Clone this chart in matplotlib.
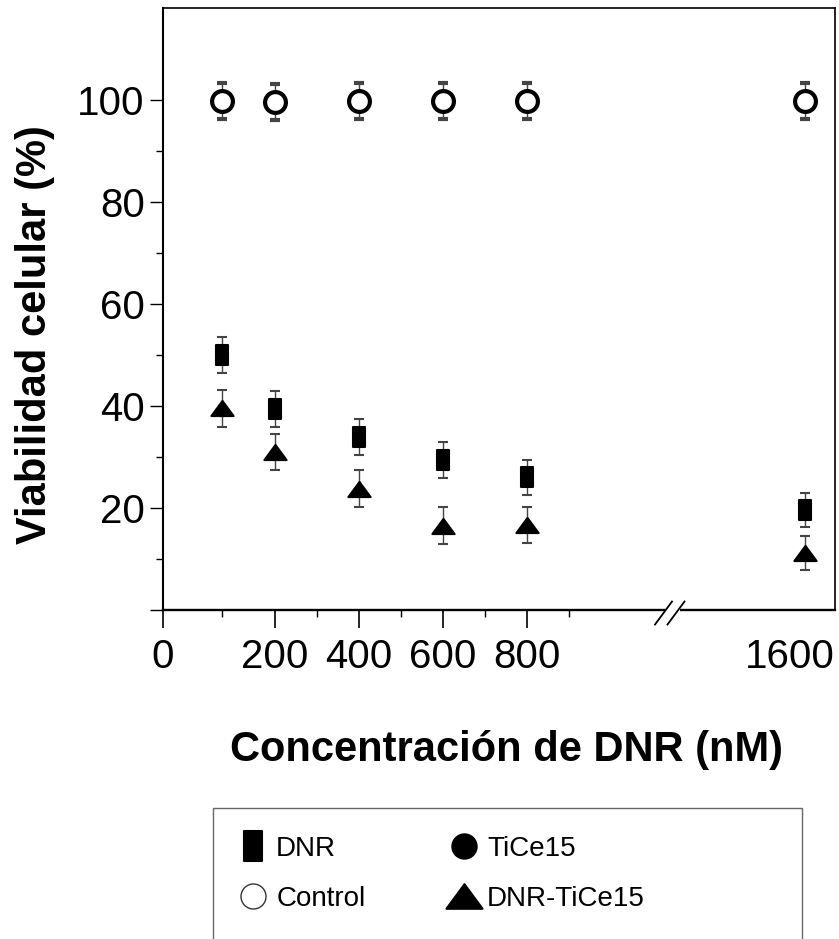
import numpy as np
import matplotlib.pyplot as plt
import matplotlib.patches as patches
from matplotlib.path import Path
from matplotlib.markers import MarkerStyle
from matplotlib.lines import Line2D

plt.rcParams['font.family'] = ['Liberation Sans', 'DejaVu Sans']

# data
conc = [100, 200, 400, 600, 800, 1600]
control = [99.8, 99.6, 99.8, 99.8, 99.8, 99.8]
control_err = [3.5, 3.6, 3.5, 3.5, 3.5, 3.5]
dnr = [50.0, 39.4, 33.9, 29.4, 26.0, 19.6]
dnr_err = [3.5, 3.6, 3.6, 3.6, 3.5, 3.4]
combo = [39.5, 31.0, 23.8, 16.5, 16.7, 11.2]
combo_err = [3.6, 3.5, 3.6, 3.6, 3.5, 3.3]

xticks = [0, 200, 400, 600, 800]
xminor = [100, 300, 500, 700, 900]
yticks = [0, 20, 40, 60, 80, 100]
yminor = [10, 30, 50, 70, 90]

# piecewise x axis (uneven start, compressed gap before 1600)
xp = [0, 100, 200, 1000, 1500, 1700]
fp = [0, 59, 112, 448, 600, 684]

def fwd(x):
    return np.interp(x, xp, fp)

def inv(y):
    return np.interp(y, fp, xp)

# markers
rect = MarkerStyle(Path([(-0.62, -1), (0.62, -1), (0.62, 1), (-0.62, 1), (-0.62, -1)],
                        [1, 2, 2, 2, 79]), joinstyle='round')
tri = MarkerStyle(Path([(0, 0.68), (1, -0.68), (-1, -0.68), (0, 0.68)],
                       [1, 2, 2, 79]), joinstyle='round')

fig = plt.figure(figsize=(8.39, 9.39), dpi=100)
ax = fig.add_axes([163/839, 1-610/939, 672/839, 602/939])
ax.set_xscale('function', functions=(fwd, inv))
ax.set_xlim(0, 1671)
ax.set_ylim(0, 118)

ekw = dict(ls='none', ecolor='#444444', elinewidth=1.0, capsize=3.6, capthick=1.0)
ax.errorbar(conc, control, yerr=control_err, marker='o', ms=15, mfc='white', mec='k',
            mew=3.0, zorder=3, **ekw)
ax.errorbar(conc, dnr, yerr=dnr_err, marker=rect, ms=14, mfc='k', mec='k',
            mew=1.5, zorder=3, **ekw)
ax.errorbar(conc, combo, yerr=combo_err, marker=tri, ms=16, mfc='k', mec='k',
            mew=1.5, zorder=3, **ekw)

ax.set_xticks(xticks)
ax.set_xticks(xminor, minor=True)
ax.set_xticklabels([str(t) for t in xticks])
ax.set_yticks(yticks)
ax.set_yticks(yminor, minor=True)
ax.set_yticklabels([''] + [str(t) for t in yticks[1:]])

ax.tick_params(axis='x', which='major', length=13, width=1.2, pad=7, labelsize=29, colors='k')
ax.tick_params(axis='x', which='minor', length=5, width=1.0)
ax.tick_params(axis='y', which='major', length=9.5, width=1.0, pad=3.6, labelsize=29)
ax.tick_params(axis='y', which='minor', length=5, width=1.0)
for t in ax.xaxis.get_ticklines(minor=True) + ax.yaxis.get_ticklines() + ax.yaxis.get_ticklines(minor=True):
    t.set_color('#444444')
for t in ax.xaxis.get_ticklines():
    t.set_color('#444444')

ax.spines['bottom'].set_linewidth(1.7)
ax.spines['left'].set_linewidth(1.5)
ax.spines['top'].set_linewidth(1.2)
ax.spines['right'].set_linewidth(1.2)

# label for 1600 next to the right edge
ax.text(1.0, -(18 + 10) / 602, '1600', transform=ax.transAxes, ha='right', va='top', fontsize=29)

# axis break marks
ax.add_patch(patches.Rectangle((0.747, -0.004), 0.022, 0.008, transform=ax.transAxes,
                               facecolor='white', edgecolor='none', clip_on=False, zorder=5))
for cx in (0.7448, 0.7634):
    ax.add_line(Line2D([cx - 0.01265, cx + 0.01265], [-0.005 - 0.0191, -0.005 + 0.0191],
                       transform=ax.transAxes, color='k', lw=1.3, clip_on=False, zorder=6))

fig.text(35/839, 1-335/939, 'Viabilidad celular (%)', rotation=90, ha='center', va='center',
         fontsize=30, fontweight='bold')
fig.text(507/839, 1-761/939, 'Concentración de DNR (nM)', ha='center', va='baseline',
         fontsize=30, fontweight='bold')

# legend frame (runs off the bottom of the figure)
fig.patches.append(patches.Rectangle((213/839, -0.05), (802-213)/839, 0.05 + 1-808/939,
                                     transform=fig.transFigure, facecolor='none',
                                     edgecolor='#666666', lw=1.0))
handles = [
    Line2D([], [], ls='none', marker=rect, ms=21, mfc='k', mec='k', mew=1.5),
    Line2D([], [], ls='none', marker='o', ms=18, mfc='white', mec='#333333', mew=1.0),
    Line2D([], [], ls='none', marker='o', ms=18, mfc='k', mec='k'),
    Line2D([], [], ls='none', marker=tri, ms=26, mfc='k', mec='k', mew=1.5),
]
labels = ['DNR', 'Control', 'TiCe15', 'DNR-TiCe15']
fig.legend(handles, labels, ncol=2, loc='upper left', bbox_to_anchor=(224/839, 1-822/939),
           frameon=False, fontsize=20, borderpad=0, handlelength=1.1, handletextpad=0.28,
           columnspacing=3.0, labelspacing=0.85)

fig.savefig('out.png', dpi=100)
